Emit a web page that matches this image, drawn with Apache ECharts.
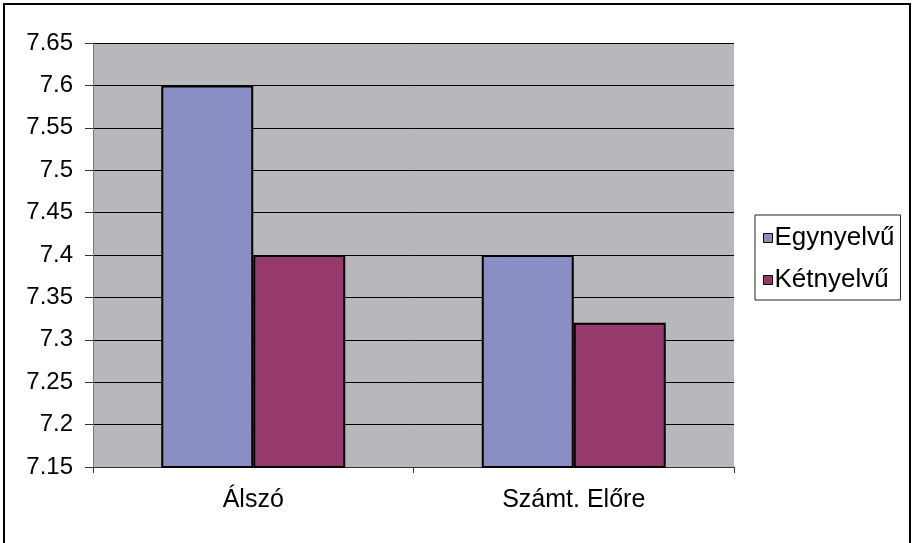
<!DOCTYPE html>
<html>
<head>
<meta charset="utf-8">
<script src="https://cdn.jsdelivr.net/npm/echarts@6/dist/echarts.min.js"></script>
<style>
html,body{margin:0;padding:0;background:#fff;}
#c{width:912px;height:543px;}
</style>
</head>
<body>
<div id="c"></div>
<script>
var categories = ['Álszó', 'Számt. Előre'];
var seriesNames = ['Egynyelvű', 'Kétnyelvű'];
var egynyelvu = [7.6, 7.4];
var ketnyelvu = [7.4, 7.32];
var yMin = 7.15, yMax = 7.65, yStep = 0.05;

var FONT = '"Liberation Sans", Arial, sans-serif';
var chart = echarts.init(document.getElementById('c'), null, {renderer: 'canvas'});
chart.setOption({
  animation: false,
  backgroundColor: '#fff',
  graphic: [{
    type: 'rect',
    shape: {x: 4, y: 4, width: 906, height: 600},
    style: {fill: 'none', stroke: '#000', lineWidth: 2},
    z: 100
  }],
  grid: {left: 93, top: 43, right: 178, bottom: 76, show: true, backgroundColor: '#b7b8bb', borderWidth: 0},
  legend: {
    orient: 'vertical',
    left: 755, top: 215,
    padding: [10, 6, 7, 8],
    itemGap: 16,
    itemWidth: 9, itemHeight: 9,
    borderColor: '#222', borderWidth: 1,
    backgroundColor: '#fff',
    icon: 'rect',
    itemStyle: {borderColor: '#000', borderWidth: 1},
    textStyle: {fontFamily: FONT, fontSize: 26, color: '#000', lineHeight: 24, padding: [0, 0, 0, -3]},
    data: seriesNames
  },
  xAxis: {
    type: 'category',
    data: categories,
    axisLine: {lineStyle: {color: '#333', width: 1}},
    axisTick: {show: true, length: 6, lineStyle: {color: '#333'}},
    axisLabel: {fontFamily: FONT, fontSize: 25, color: '#000', margin: 21}
  },
  yAxis: {
    type: 'value',
    min: yMin, max: yMax, interval: yStep,
    axisLine: {show: true, lineStyle: {color: '#777', width: 1}},
    axisTick: {show: true, length: 8, lineStyle: {color: '#333'}},
    splitLine: {show: true, lineStyle: {color: '#000', width: 1}},
    axisLabel: {fontFamily: FONT, fontSize: 24, color: '#000', margin: 20,
      formatter: function (v) { return String(+v.toFixed(2)); }}
  },
  series: [
    {name: seriesNames[0], type: 'bar', data: egynyelvu, barWidth: 92, barGap: '0%',
     itemStyle: {color: '#8b8dc5', borderColor: '#000', borderWidth: 2}},
    {name: seriesNames[1], type: 'bar', data: ketnyelvu, barWidth: 92, barGap: '0%',
     itemStyle: {color: '#963a6e', borderColor: '#000', borderWidth: 2}}
  ]
});
</script>
</body>
</html>
